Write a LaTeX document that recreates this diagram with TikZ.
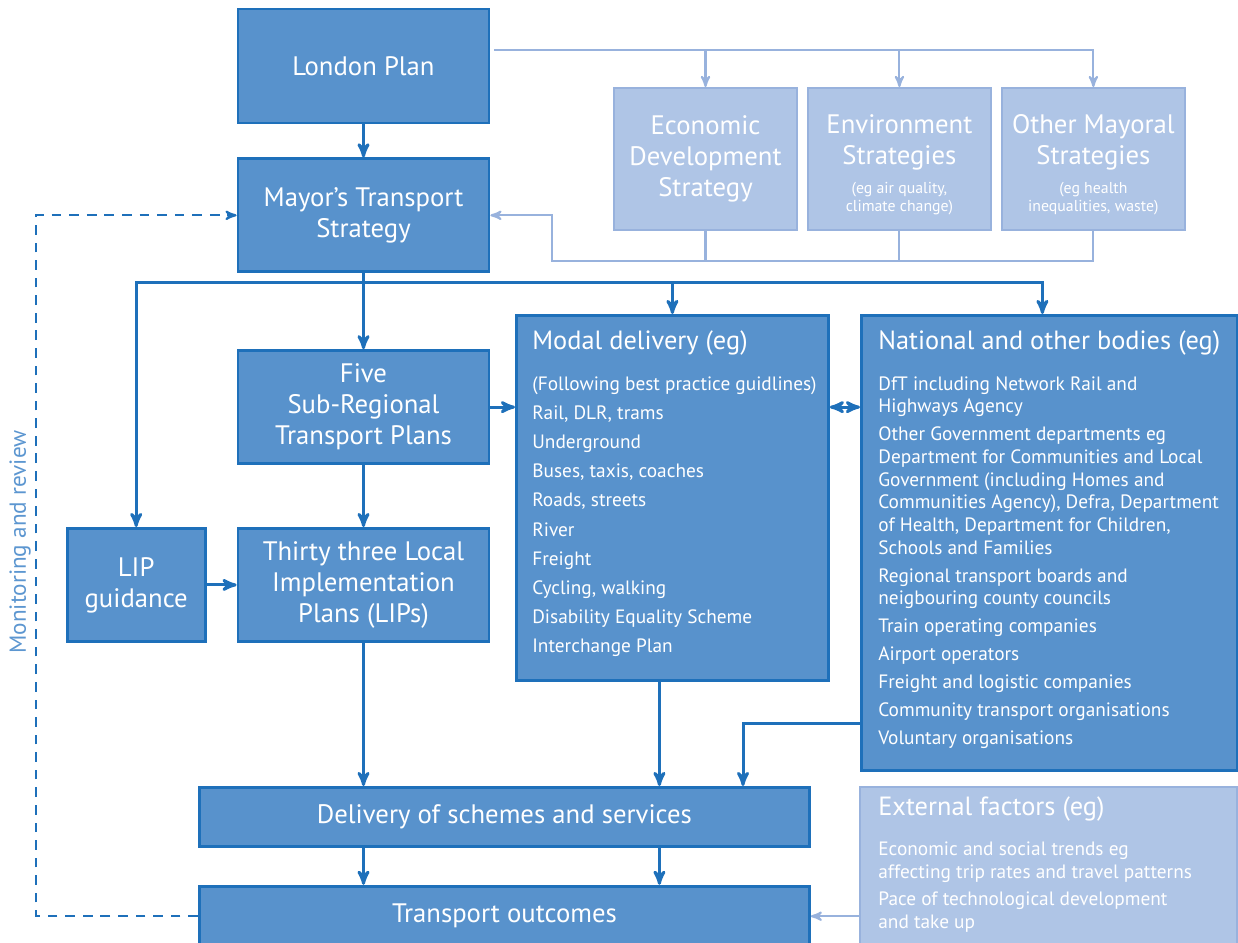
\documentclass[tikz,border=0pt]{standalone}
\usepackage{fontspec}
\setmainfont{PT Sans}
\usetikzlibrary{arrows, positioning}
\definecolor{tflblue}{RGB}{30,112,186}
\definecolor{boxblue}{RGB}{88,146,204}
\definecolor{paleblue}{RGB}{175,197,230}
\definecolor{lineblue}{RGB}{152,178,221}
\definecolor{labelblue}{RGB}{92,150,208}
\newcommand*{\boxFont}{\fontsize{15.2}{17.6}\selectfont}
\newcommand*{\headFont}{\fontsize{15}{18}\selectfont}
\newcommand*{\listFont}{\fontsize{11}{12.9}\selectfont}
\newcommand*{\noteFont}{\fontsize{9}{10.8}\selectfont}
\newcommand*{\planWidth}{5.02cm}
\tikzset{
    darkbox/.style   = {draw=tflblue, fill=boxblue, line width=1.6pt, text=white, align=center, font=\boxFont, inner sep=2pt},
    palebox/.style   = {draw=lineblue, fill=paleblue, line width=1.1pt, text=white, align=center, font=\boxFont, minimum width=3.66cm, minimum height=2.84cm},
    listtext/.style  = {text=white, align=left, anchor=north west, inner sep=0pt, font=\listFont},
    to/.style        = {->, >=stealth', line width=1.7pt, draw=tflblue},
    twoway/.style    = {<->, >=stealth', line width=1.7pt, draw=tflblue},
    tolight/.style   = {->, >=stealth', line width=1.2pt, draw=lineblue},
    lightline/.style = {line width=1.2pt, draw=lineblue},
    loopback/.style  = {->, >=stealth', line width=1.2pt, draw=tflblue, dash pattern=on 5.5pt off 4.5pt}
}

\begin{document}
\begin{tikzpicture}
	\useasboundingbox (0,0) rectangle (24.76,-18.86);

	% strategy boxes
	\node (london) [darkbox, minimum width=\planWidth, minimum height=2.28cm] at (7.27,-1.32) {London Plan};
	\node (mts)    [darkbox, minimum width=\planWidth, minimum height=2.26cm, below=0.66cm of london] {Mayor’s Transport\\Strategy};
	\node (econ)   [palebox] at (14.11,-3.18) {Economic\\Development\\Strategy};
	\node (env)    [palebox, right=0.18cm of econ, text height=62pt] {Environment\\Strategies\\[-1pt]\noteFont (eg air quality,\\[-7.4pt]\noteFont climate change)};
	\node (other)  [palebox, right=0.18cm of env, text height=62pt] {Other Mayoral\\Strategies\\[-1pt]\noteFont (eg health\\[-7.4pt]\noteFont inequalities, waste)};

	% plans
	\node (five)   [darkbox, minimum width=\planWidth, minimum height=2.26cm, below=1.52cm of mts] {Five\\Sub-Regional\\Transport Plans};
	\node (thirty) [darkbox, minimum width=\planWidth, minimum height=2.26cm, below=1.24cm of five] {Thirty three Local\\Implementation\\Plans (LIPs)};
	\node (lip)    [darkbox, minimum width=2.76cm, minimum height=2.26cm, left=0.60cm of thirty] {LIP\\guidance};

	% delivery bodies
	\node (modal)    [darkbox, minimum width=6.24cm, minimum height=7.30cm, anchor=north west] at (10.30,-6.28) {};
	\node (national) [darkbox, minimum width=7.52cm, minimum height=9.10cm, anchor=north west] at (17.20,-6.28) {};
	\node (external) [palebox, minimum width=7.54cm, minimum height=3.30cm, anchor=north west] at (17.18,-15.72) {};

	\node (modaltext) [listtext] at ([xshift=0.34cm, yshift=-0.32cm]modal.north west) {{\headFont Modal delivery (eg)}\\[10.5pt]
		(Following best practice guidlines)\\[3.7pt] Rail, DLR, trams\\[3.7pt] Underground\\[3.7pt]
		Buses, taxis, coaches\\[3.7pt] Roads, streets\\[3.7pt] River\\[3.7pt] Freight\\[3.7pt]
		Cycling, walking\\[3.7pt] Disability Equality Scheme\\[3.7pt] Interchange Plan};
	\node (nationaltext) [listtext] at ([xshift=0.36cm, yshift=-0.32cm]national.north west) {{\headFont National and other bodies (eg)}\\[10.5pt]
		DfT including Network Rail and\\ Highways Agency\\[3pt]
		Other Government departments eg\\ Department for Communities and Local\\ Government (including Homes and\\
		Communities Agency), Defra, Department\\ of Health, Department for Children,\\ Schools and Families\\[3pt]
		Regional transport boards and\\ neigbouring county councils\\[3pt]
		Train operating companies\\[3pt] Airport operators\\[3pt] Freight and logistic companies\\[3pt]
		Community transport organisations\\[3pt] Voluntary organisations};
	\node (externaltext) [listtext] at ([xshift=0.38cm, yshift=-0.20cm]external.north west) {{\headFont External factors (eg)}\\[10pt]
		Economic and social trends eg\\ affecting trip rates and travel patterns\\[3pt]
		Pace of technological development\\ and take up};

	% outputs
	\node (delivery) [darkbox, minimum width=12.20cm, minimum height=1.18cm, anchor=north west] at (3.96,-15.72) {Delivery of schemes and services};
	\node (outcomes) [darkbox, minimum width=12.20cm, minimum height=1.20cm, below=0.74cm of delivery] {Transport outcomes};

	\node (monitorlabel) [rotate=90, text=labelblue, font=\fontsize{13.2}{15}\selectfont] at (0.40,-10.84) {Monitoring and review};

	\coordinate (lpout)     at ([xshift=0.08cm, yshift=0.32cm]london.east);
	\coordinate (stratback) at (11.04,-5.22);
	\coordinate (branch)    at ([yshift=-0.18cm]mts.south);
	\coordinate (modalout)  at ([xshift=-0.26cm]modal.south);
	\coordinate (natout)    at ([yshift=0.96cm]national.south west);
	\coordinate (natdrop)   at (14.86,0);
	\coordinate (review)    at (0.72,0);

	\draw [to] (london) -- (mts);
	\draw [tolight] (lpout) -| (other.north);
	\draw [tolight] (econ.north |- lpout) -- (econ.north);
	\draw [tolight] (env.north |- lpout) -- (env.north);
	\draw [tolight] (other.south) |- (stratback) |- (mts.east);
	\draw [lightline] (econ.south) -- (econ.south |- stratback);
	\draw [lightline] (env.south) -- (env.south |- stratback);

	\draw [to] (mts) -- (five);
	\draw [to] (branch) -| (lip.north);
	\draw [to] (branch) -| (modal.north);
	\draw [to] (branch) -| ([xshift=-0.14cm]national.north);
	\draw [to] (five) -- (thirty);
	\draw [to] (lip) -- (thirty);
	\draw [to] (five.east) -- (five.east -| modal.west);
	\draw [twoway] (five.east -| modal.east) -- (five.east -| national.west);

	\draw [to] (thirty.south) -- (thirty.south |- delivery.north);
	\draw [to] (modalout) -- (modalout |- delivery.north);
	\draw [to] (natout) -| (natdrop |- delivery.north);
	\draw [to] (thirty.south |- delivery.south) -- (thirty.south |- outcomes.north);
	\draw [to] (modalout |- delivery.south) -- (modalout |- outcomes.north);
	\draw [tolight] (external.west |- outcomes) -- (outcomes.east);
	\draw [loopback] (outcomes.west) -| (review |- mts.west) -- (mts.west);
\end{tikzpicture}
\end{document}
